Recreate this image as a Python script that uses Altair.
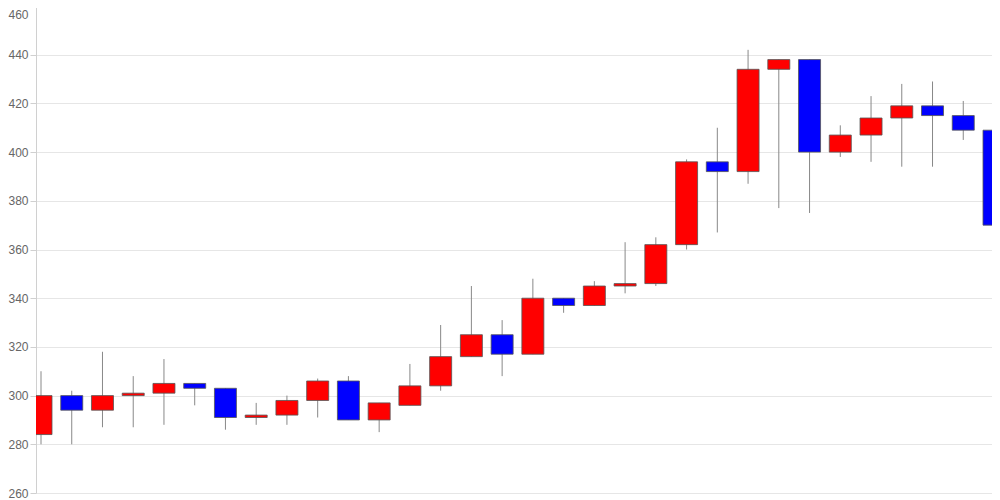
import altair as alt
import pandas as pd

days = list(range(32))
opens = [284, 300, 294, 300, 301, 305, 303, 291, 292, 298, 306, 290, 296, 304, 316, 325,
         317, 340, 337, 345, 346, 362, 396, 392, 434, 438, 400, 407, 414, 419, 415, 409]
closes = [300, 294, 300, 301, 305, 303, 291, 292, 298, 306, 290, 297, 304, 316, 325, 317,
          340, 337, 345, 346, 362, 396, 392, 434, 438, 400, 407, 414, 419, 415, 409, 370]
highs = [310, 302, 318, 308, 315, 305, 303, 297, 300, 307, 308, 297, 313, 329, 345, 331,
         348, 340, 347, 363, 365, 397, 410, 442, 438, 438, 411, 423, 428, 429, 421, 410]
lows = [280, 280, 287, 287, 288, 296, 286, 288, 288, 291, 290, 285, 296, 302, 316, 308,
        317, 334, 337, 342, 345, 360, 367, 387, 377, 375, 398, 396, 394, 394, 405, 363]
y_ticks = [260, 280, 300, 320, 340, 360, 380, 400, 420, 440, 460]

df = pd.DataFrame({"day": days, "open": opens, "close": closes, "high": highs, "low": lows})
df["dir"] = ["up" if c >= o else "down" for o, c in zip(opens, closes)]

x = alt.X("day:Q", scale=alt.Scale(domain=[0, 31], nice=False, zero=False), axis=None)
yscale = alt.Scale(domain=[260, 460], nice=False, zero=False)

base = alt.Chart(df)

wicks = base.mark_rule(color="#888888", strokeWidth=1, clip=True).encode(
    x=x,
    y=alt.Y("low:Q", scale=yscale,
            axis=alt.Axis(values=y_ticks, title=None, grid=True, gridColor="#e6e6e6",
                          domainColor="#d0d0d0", tickColor="#d0d0d0", tickSize=6,
                          labelColor="#666666", labelFontSize=12, labelFont="Liberation Sans",
                          labelPadding=2,
                          labelBaseline={"expr": "datum.value == 460 ? 'top' : 'middle'"},
                          labelOffset={"expr": "datum.value == 460 ? 3 : 0"})),
    y2="high:Q",
)

bodies = base.mark_bar(size=22, stroke="#555555", strokeWidth=1, strokeOpacity=0.8, clip=True).encode(
    x=x,
    y=alt.Y("open:Q", scale=yscale),
    y2="close:Q",
    color=alt.Color("dir:N", scale=alt.Scale(domain=["up", "down"], range=["#ff0000", "#0000ff"]),
                    legend=None),
)

chart = (wicks + bodies).properties(
    width=963, height=487,
    autosize=alt.AutoSizeParams(type="none"),
    padding={"left": 28, "top": -2, "right": -7, "bottom": 6},
).configure_view(stroke=None)

chart.save("out.html", embed_options={"renderer": "svg", "actions": False})
